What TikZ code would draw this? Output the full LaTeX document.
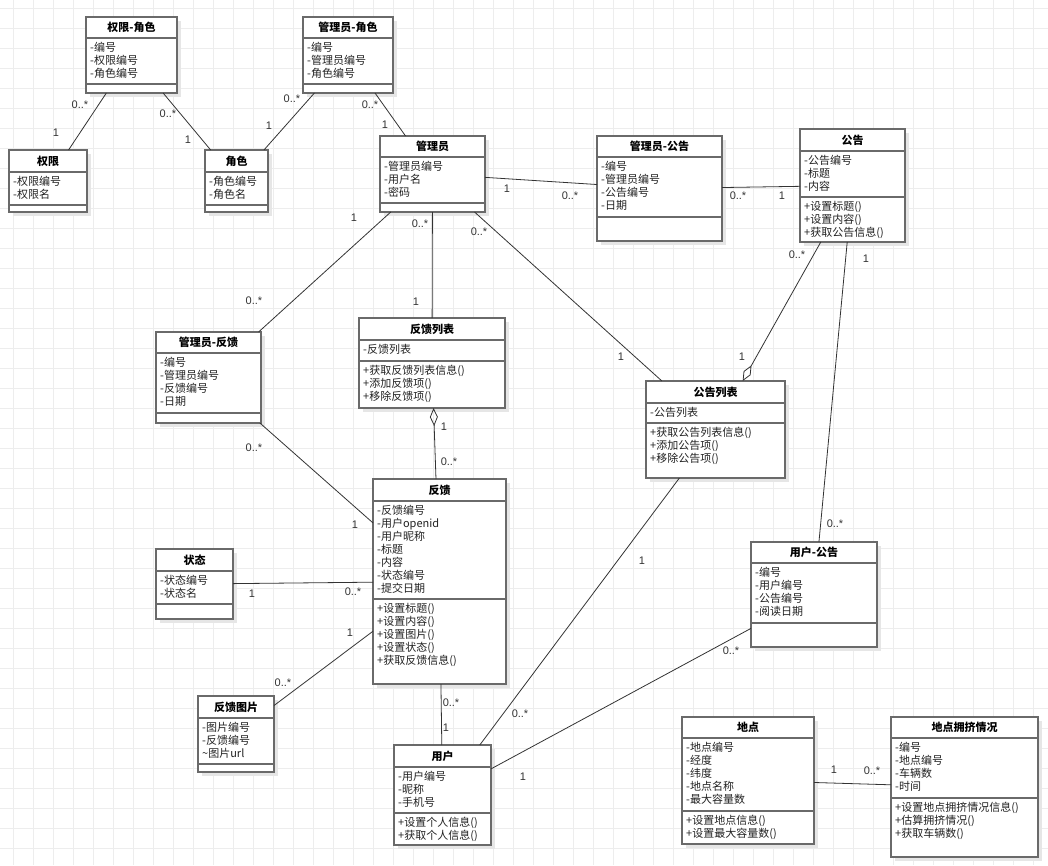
\documentclass[tikz,border=0pt]{standalone}
\usepackage{fontspec}
\setmainfont{Noto Sans CJK SC}
\newfontfamily\labfont{Liberation Sans}
\usetikzlibrary{arrows.meta}
\definecolor{gridc}{HTML}{EDEDED}
\definecolor{boxc}{HTML}{6A6A6A}
\definecolor{linec}{HTML}{333333}
\definecolor{shadowc}{HTML}{E6E6E6}
\definecolor{textc}{HTML}{222222}
\tikzset{
 classbox/.style={draw=boxc, line width=1.2pt, fill=white, inner sep=0pt, outer sep=0pt},
 sepline/.style={draw=boxc, line width=1.2pt},
 titletext/.style={font=\fontsize{11}{13}\selectfont\bfseries, inner sep=0pt, text=black},
 itemtext/.style={font=\fontsize{11}{13}\selectfont, inner sep=0pt, anchor=base west, text=textc},
 assoc/.style={draw=linec, line width=0.8pt},
 aggr/.style={assoc, -{Diamond[open, length=18pt, width=8pt, line width=0.8pt]}},
 mult/.style={font=\labfont\fontsize{11}{13}\selectfont, text=linec, inner sep=0pt},
 gridline/.style={draw=gridc, line width=0.9pt},
}
% name x1 y1 x2 y2 tline aline title
\newcommand\umlbox[8]{%
 \fill[shadowc] (#2+4,#3+4) rectangle (#4+4,#5+4);
 \node[classbox, minimum width={(#4-#2)*1pt}, minimum height={(#5-#3)*1pt}] (#1) at ({(#2+#4)/2},{(#3+#5)/2}) {};
 \draw[sepline] (#2,#6) -- (#4,#6);
 \draw[sepline] (#2,#7) -- (#4,#7);
 \node[titletext] (#1-title) at ({(#2+#4)/2},{(#3+#6)/2}) {#8};
}
% x1 separator-y list
\newcommand\umlitems[3]{%
 \foreach \itm [count=\i from 0] in {#3} { \node[itemtext] at (#1+4, {#2+13+13*\i}) {\itm}; }
}
\begin{document}
\begin{tikzpicture}[x=1pt,y=-1pt]
\useasboundingbox (0,0) rectangle (1048,865);
\fill[white] (0,0) rectangle (1048,865);
\foreach \gx in {13,33,...,1033} \draw[gridline] (\gx,0) -- (\gx,865);
\foreach \gy in {8,28,...,848} \draw[gridline] (0,\gy) -- (1048,\gy);

% classes
\umlbox{qxjs}{86}{17}{177}{93}{38}{84}{权限-角色}
\umlitems{86}{38}{-编号,-权限编号,-角色编号}
\umlbox{glyjs}{303}{17}{393}{93}{38}{84}{管理员-角色}
\umlitems{303}{38}{-编号,-管理员编号,-角色编号}
\umlbox{qx}{9}{150}{87}{212}{172}{205}{权限}
\umlitems{9}{172}{-权限编号,-权限名}
\umlbox{js}{205}{150}{268}{212}{172}{205}{角色}
\umlitems{205}{172}{-角色编号,-角色名}
\umlbox{gly}{380}{136}{485}{212}{157}{203}{管理员}
\umlitems{380}{157}{-管理员编号,-用户名,-密码}
\umlbox{glygg}{597}{136}{722}{241}{157}{217}{管理员-公告}
\umlitems{597}{157}{-编号,-管理员编号,-公告编号,-日期}
\umlbox{gg}{800}{129}{905}{242}{151}{197}{公告}
\umlitems{800}{151}{-公告编号,-标题,-内容}
\umlitems{800}{197}{+设置标题(),+设置内容(),+获取公告信息()}
\umlbox{glyfk}{156}{332}{261}{423}{353}{413}{管理员-反馈}
\umlitems{156}{353}{-编号,-管理员编号,-反馈编号,-日期}
\umlbox{fklb}{359}{318}{505}{408}{340}{361}{反馈列表}
\umlitems{359}{340}{-反馈列表}
\umlitems{359}{361}{+获取反馈列表信息(),+添加反馈项(),+移除反馈项()}
\umlbox{fk}{373}{479}{506}{684}{501}{599}{反馈}
\umlitems{373}{501}{-反馈编号,-用户openid,-用户昵称,-标题,-内容,-状态编号,-提交日期}
\umlitems{373}{599}{+设置标题(),+设置内容(),+设置图片(),+设置状态(),+获取反馈信息()}
\umlbox{zt}{156}{549}{233}{619}{571}{604}{状态}
\umlitems{156}{571}{-状态编号,-状态名}
\umlbox{gglb}{646}{381}{785}{478}{403}{423}{公告列表}
\umlitems{646}{403}{-公告列表}
\umlitems{646}{423}{+获取公告列表信息(),+添加公告项(),+移除公告项()}
\umlbox{yhgg}{751}{542}{877}{647}{563}{623}{用户-公告}
\umlitems{751}{563}{-编号,-用户编号,-公告编号,-阅读日期}
\umlbox{fktp}{198}{696}{274}{772}{718}{764}{反馈图片}
\umlitems{198}{718}{-图片编号,-反馈编号,\textasciitilde 图片url}
\umlbox{yh}{394}{745}{491}{845}{767}{813}{用户}
\umlitems{394}{767}{-用户编号,-昵称,-手机号}
\umlitems{394}{813}{+设置个人信息(),+获取个人信息()}
\umlbox{dd}{682}{717}{814}{844}{738}{811}{地点}
\umlitems{682}{738}{-地点编号,-经度,-纬度,-地点名称,-最大容量数}
\umlitems{682}{811}{+设置地点信息(),+设置最大容量数()}
\umlbox{ddyj}{891}{717}{1038}{857}{738}{798}{地点拥挤情况}
\umlitems{891}{738}{-编号,-地点编号,-车辆数,-时间}
\umlitems{891}{798}{+设置地点拥挤情况信息(),+估算拥挤情况(),+获取车辆数()}

% connectors
\draw[assoc] (qxjs) -- (qx);
\draw[assoc] (qxjs) -- (js);
\draw[assoc] (glyjs) -- (js);
\draw[assoc] (glyjs) -- (gly);
\draw[assoc] (gly) -- (glygg);
\draw[assoc] (glygg) -- (gg);
\draw[aggr] (gg) -- (gglb);
\draw[assoc] (gg) -- (yhgg);
\draw[assoc] (gly) -- (glyfk);
\draw[assoc] (gly) -- (fklb);
\draw[assoc] (gly) -- (gglb);
\draw[assoc] (glyfk) -- (fk);
\draw[aggr] (fk) -- (fklb);
\draw[assoc] (zt) -- (fk);
\draw[assoc] (fk) -- (fktp);
\draw[assoc] (fk) -- (yh);
\draw[assoc] (gglb) -- (yh);
\draw[assoc] (yhgg) -- (yh);
\draw[assoc] (dd) -- (ddyj);

% multiplicities
\node[mult] (m1a) at (80,105) {0..*};
\node[mult] (m1b) at (56,133) {1};
\node[mult] (m2a) at (168,114) {0..*};
\node[mult] (m2b) at (188,140) {1};
\node[mult] (m3a) at (292,99) {0..*};
\node[mult] (m3b) at (269,126) {1};
\node[mult] (m4a) at (370,105) {0..*};
\node[mult] (m4b) at (385,125) {1};
\node[mult] (m5a) at (507,189) {1};
\node[mult] (m5b) at (570,196) {0..*};
\node[mult] (m6a) at (738,196) {0..*};
\node[mult] (m6b) at (782,196) {1};
\node[mult] (m7a) at (797,255) {0..*};
\node[mult] (m7b) at (742,357) {1};
\node[mult] (m8a) at (866,259) {1};
\node[mult] (m8b) at (835,524) {0..*};
\node[mult] (m9a) at (354,218) {1};
\node[mult] (m9b) at (254,301) {0..*};
\node[mult] (m10a) at (420,224) {0..*};
\node[mult] (m10b) at (416,302) {1};
\node[mult] (m11a) at (479,232) {0..*};
\node[mult] (m11b) at (621,357) {1};
\node[mult] (m12a) at (254,448) {0..*};
\node[mult] (m12b) at (355,525) {1};
\node[mult] (m13a) at (444,427) {1};
\node[mult] (m13b) at (449,462) {0..*};
\node[mult] (m14a) at (252,594) {1};
\node[mult] (m14b) at (353,592) {0..*};
\node[mult] (m15a) at (350,633) {1};
\node[mult] (m15b) at (283,683) {0..*};
\node[mult] (m16a) at (451,703) {0..*};
\node[mult] (m16b) at (446,728) {1};
\node[mult] (m17a) at (642,561) {1};
\node[mult] (m17b) at (520,714) {0..*};
\node[mult] (m18a) at (731,651) {0..*};
\node[mult] (m18b) at (523,777) {1};
\node[mult] (m19a) at (834,770) {1};
\node[mult] (m19b) at (872,771) {0..*};
\end{tikzpicture}
\end{document}
